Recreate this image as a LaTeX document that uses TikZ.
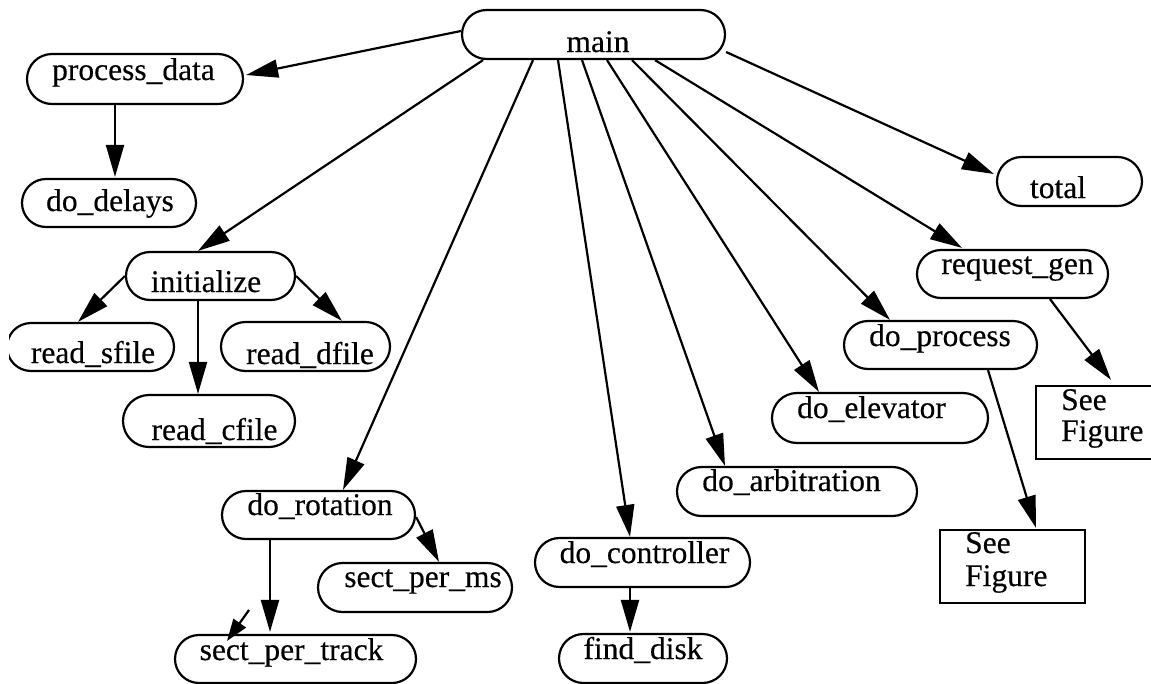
\documentclass[tikz,border=0pt]{standalone}
\usepackage{fontspec}
\newfontfamily\lblfont{Liberation Serif}[FakeBold=0.35]
\usetikzlibrary{arrows.meta,shapes.misc}
\begin{document}
\begin{tikzpicture}[x=1pt,y=-1pt,
  fn/.style={draw, line width=2.2pt, rounded rectangle, inner sep=0pt},
  ref/.style={draw, line width=2.2pt, rectangle, inner sep=0pt},
  lbl/.style={inner sep=0pt, font=\lblfont\fontsize{31.5}{36}\selectfont},
  arr/.style={line width=2.2pt, -{Triangle[length=32pt,width=18pt]}},
  arrsmall/.style={line width=2.2pt, -{Triangle[length=22pt,width=15pt]}}]
\useasboundingbox (0,0) rectangle (1151,683);
\clip (9,0) rectangle (1151,683);

% procedure boxes
\node[fn, minimum width=263pt, minimum height=49pt] (main) at (593.5,34.5) {};
\node[fn, minimum width=216pt, minimum height=50pt] (process_data) at (135,79) {};
\node[fn, minimum width=174pt, minimum height=48pt] (do_delays) at (109,203) {};
\node[fn, minimum width=145pt, minimum height=49pt] (total) at (1069.5,181.5) {};
\node[fn, minimum width=191pt, minimum height=48pt] (request_gen) at (1012.5,274) {};
\node[fn, minimum width=193pt, minimum height=48pt] (do_process) at (940.5,345) {};
\node[fn, minimum width=216pt, minimum height=50pt] (do_elevator) at (880,418) {};
\node[fn, minimum width=240pt, minimum height=49pt] (do_arbitration) at (797,491.5) {};
\node[fn, minimum width=215pt, minimum height=49pt] (do_controller) at (642.5,562.5) {};
\node[fn, minimum width=168pt, minimum height=49pt] (find_disk) at (643,658.5) {};
\node[fn, minimum width=169pt, minimum height=48pt] (initialize) at (210.5,276) {};
\node[fn, minimum width=167pt, minimum height=48pt] (read_sfile) at (90.5,347) {};
\node[fn, minimum width=169pt, minimum height=49pt] (read_dfile) at (305.5,346.5) {};
\node[fn, minimum width=172pt, minimum height=52pt] (read_cfile) at (209,421) {};
\node[fn, minimum width=193pt, minimum height=48pt] (do_rotation) at (318.5,515) {};
\node[fn, minimum width=194pt, minimum height=49pt] (sect_per_ms) at (415,587.5) {};
\node[fn, minimum width=241pt, minimum height=48pt] (sect_per_track) at (295.5,659) {};

% cross-reference boxes
\node[ref, minimum width=145pt, minimum height=73pt] (sfB) at (1012.5,566.5) {};
\node[ref, minimum width=154pt, minimum height=73pt] (sfR) at (1113,422.5) {};

% labels
\node[lbl, anchor=base] (main-t) at (598,52) {main};
\node[lbl, anchor=base] (process_data-t) at (133.5,80) {process\_data};
\node[lbl, anchor=base] (do_delays-t) at (110,211) {do\_delays};
\node[lbl, anchor=base] (total-t) at (1058,198) {total};
\node[lbl, anchor=base] (request_gen-t) at (1017.5,274) {request\_gen};
\node[lbl, anchor=base] (do_process-t) at (940,346) {do\_process};
\node[lbl, anchor=base] (do_elevator-t) at (871.5,418) {do\_elevator};
\node[lbl, anchor=base] (do_arbitration-t) at (791.5,491) {do\_arbitration};
\node[lbl, anchor=base] (do_controller-t) at (644.5,563) {do\_controller};
\node[lbl, anchor=base] (find_disk-t) at (643,659) {find\_disk};
\node[lbl, anchor=base] (initialize-t) at (206,292) {initialize};
\node[lbl, anchor=base] (read_sfile-t) at (93,363) {read\_sfile};
\node[lbl, anchor=base] (read_dfile-t) at (310,364) {read\_dfile};
\node[lbl, anchor=base] (read_cfile-t) at (214.5,440) {read\_cfile};
\node[lbl, anchor=base] (do_rotation-t) at (320,515) {do\_rotation};
\node[lbl, anchor=base] (sect_per_ms-t) at (423,587) {sect\_per\_ms};
\node[lbl, anchor=base] (sect_per_track-t) at (291.5,660) {sect\_per\_track};
\node[lbl, anchor=base west] (sfB-t1) at (965,553) {See};
\node[lbl, anchor=base west] (sfB-t2) at (965,586) {Figure};
\node[lbl, anchor=base west] (sfR-t1) at (1061,410) {See};
\node[lbl, anchor=base west] (sfR-t2) at (1061,441) {Figure};

% calls from main
\draw[arr] ([yshift=3.5pt]main.west) -- ([xshift=2pt,yshift=4pt]process_data.east);
\draw[arr] ([xshift=-110.5pt]main.south) -- ([xshift=-12.5pt]initialize.north);
\draw[arr] ([xshift=-60.5pt]main.south) -- ([xshift=24.5pt]do_rotation.north);
\draw[arr] ([xshift=-35.5pt]main.south) -- ([xshift=-12.5pt]do_controller.north);
\draw[arr] ([xshift=-11.5pt]main.south) -- ([xshift=-72pt]do_arbitration.north);
\draw[arr] ([xshift=13.5pt]main.south) -- ([xshift=-61pt]do_elevator.north);
\draw[arr] ([xshift=38.5pt]main.south) -- ([xshift=-50.5pt]do_process.north);
\draw[arr] ([xshift=61.5pt]main.south) -- ([xshift=-50.5pt,yshift=1pt]request_gen.north);
\draw[arr] ([yshift=-17.5pt]main.east) -- ([xshift=-2pt,yshift=7.5pt]total.west);

% second-level calls
\draw[arr] ([xshift=-20pt]process_data.south) -- ([xshift=6pt,yshift=1pt]do_delays.north);
\draw[arr] (initialize.west) -- ([xshift=-12.5pt]read_sfile.north);
\draw[arr] ([xshift=-12.5pt]initialize.south) -- ([xshift=-11pt]read_cfile.north);
\draw[arr] (initialize.east) -- ([xshift=36.5pt]read_dfile.north);
\draw[arr] ([xshift=-48.5pt]do_rotation.south) -- ([xshift=-25.5pt,yshift=2pt]sect_per_track.north);
\draw[arr] ([yshift=-2pt]do_rotation.east) -- ([xshift=24pt]sect_per_ms.north);
\draw[arr] ([xshift=-12.5pt]do_controller.south) -- ([xshift=-13pt,yshift=1pt]find_disk.north);
\draw[arr] ([xshift=37.5pt]request_gen.south) -- ([xshift=-2pt,yshift=5pt]sfR.north);
\draw[arr] ([xshift=47.5pt]do_process.south) -- ([xshift=23.5pt,yshift=1pt]sfB.north);

% short arrow over sect_per_track
\coordinate (stray-a) at (249,610);
\coordinate (stray-b) at (227,641);
\draw[arrsmall] (stray-a) -- (stray-b);
\end{tikzpicture}
\end{document}
